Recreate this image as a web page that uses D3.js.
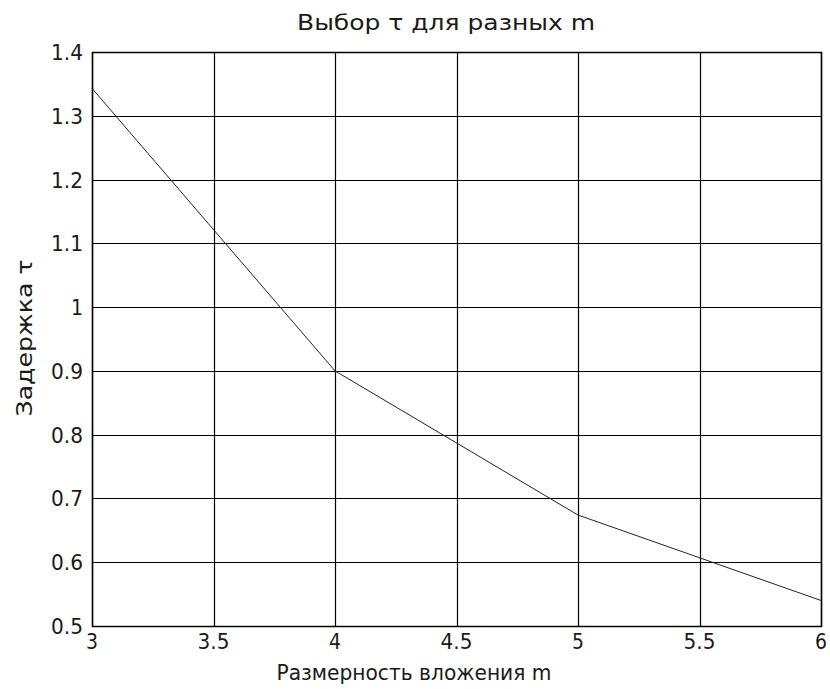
<!DOCTYPE html>
<html>
<head>
<meta charset="utf-8">
<script src="https://d3js.org/d3.v7.min.js"></script>
<style>
body { margin: 0; background: #fff; }
text { font-family: "DejaVu Sans", sans-serif; fill: #1a1a1a; }
</style>
</head>
<body>
<script>
var width = 830, height = 689;
var margin = {top: 52, right: 9, bottom: 63, left: 92};

// data
var mValues = [3, 4, 5, 6];
var tauValues = [1.343, 0.9, 0.674, 0.54];
var xTicks = [3, 3.5, 4, 4.5, 5, 5.5, 6];
var yTicks = [0.5, 0.6, 0.7, 0.8, 0.9, 1, 1.1, 1.2, 1.3, 1.4];

var svg = d3.select('body').append('svg').attr('width', width).attr('height', height);

var x = d3.scaleLinear().domain([3, 6]).range([margin.left, width - margin.right]);
var y = d3.scaleLinear().domain([0.5, 1.4]).range([height - margin.bottom, margin.top]);

// grid
svg.append('g').selectAll('line').data(xTicks).join('line')
  .attr('x1', d => Math.round(x(d)) + 0.5).attr('x2', d => Math.round(x(d)) + 0.5)
  .attr('y1', y(0.5)).attr('y2', y(1.4))
  .attr('stroke', '#000').attr('stroke-width', 1.2);
svg.append('g').selectAll('line').data(yTicks).join('line')
  .attr('y1', d => Math.round(y(d)) + 0.5).attr('y2', d => Math.round(y(d)) + 0.5)
  .attr('x1', x(3)).attr('x2', x(6))
  .attr('stroke', '#000').attr('stroke-width', 1.2);

// frame
svg.append('rect')
  .attr('x', Math.round(x(3)) + 0.5).attr('y', Math.round(y(1.4)) + 0.5)
  .attr('width', Math.round(x(6)) - Math.round(x(3))).attr('height', Math.round(y(0.5)) - Math.round(y(1.4)))
  .attr('fill', 'none').attr('stroke', '#000').attr('stroke-width', 1.5);

// tick labels
var fmt = d => String(d);
svg.append('g').selectAll('text').data(xTicks).join('text')
  .attr('x', d => x(d)).attr('y', height - margin.bottom + 23)
  .attr('text-anchor', 'middle').style('font-size', '21px')
  .attr('textLength', d => String(d).length > 1 ? 32 : 12).attr('lengthAdjust', 'spacingAndGlyphs')
  .text(fmt);
svg.append('g').selectAll('text').data(yTicks).join('text')
  .attr('x', margin.left - 9).attr('y', d => y(d) + 8)
  .attr('text-anchor', 'end').style('font-size', '21px')
  .attr('textLength', d => String(d).length > 1 ? 32 : 12).attr('lengthAdjust', 'spacingAndGlyphs')
  .text(fmt);

// the curve
var line = d3.line().x((d, i) => x(mValues[i])).y(d => y(d));
svg.append('path').datum(tauValues)
  .attr('d', line).attr('fill', 'none')
  .attr('stroke', '#222').attr('stroke-width', 1);

// titles
svg.append('text').attr('x', 446).attr('y', 30)
  .attr('text-anchor', 'middle').style('font-size', '22px')
  .attr('textLength', 298).attr('lengthAdjust', 'spacingAndGlyphs')
  .text('Выбор τ для разных m');
svg.append('text').attr('x', 414).attr('y', 680)
  .attr('text-anchor', 'middle').style('font-size', '22px')
  .attr('textLength', 275).attr('lengthAdjust', 'spacingAndGlyphs')
  .text('Размерность вложения m');
svg.append('text')
  .attr('transform', 'translate(32,338) rotate(-90)')
  .attr('text-anchor', 'middle').style('font-size', '22px')
  .attr('textLength', 157).attr('lengthAdjust', 'spacingAndGlyphs')
  .text('Задержка τ');
</script>
</body>
</html>
